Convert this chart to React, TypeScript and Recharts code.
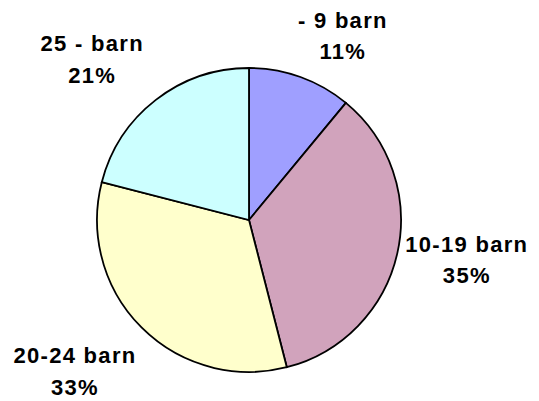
import { PieChart, Pie, Cell } from 'recharts';

const categories = ['- 9 barn', '10-19 barn', '20-24 barn', '25 - barn'];
const shares = [11, 35, 33, 21];
const colors = ['#9F9FFF', '#D1A3BC', '#FFFFCC', '#CCFFFF'];

// small per-label nudges so the text sits where the original placed it
const labelNudge = [
  [21, 18],
  [8, -7],
  [-22, -1],
  [-25, 9],
];

const data = categories.map((name, i) => ({ name, value: shares[i] }));

const RAD = Math.PI / 180;

//@ts-ignore
const renderLabel = ({ cx, cy, midAngle, percent, index, name }) => {
  const r = 215;
  const x = cx + r * Math.cos(-midAngle * RAD) + labelNudge[index][0];
  const y = cy + r * Math.sin(-midAngle * RAD) + labelNudge[index][1];
  return (
    <text
      x={x}
      y={y}
      textAnchor="middle"
      fill="#000"
      fontFamily="'Liberation Sans', Arial, sans-serif"
      fontWeight="bold"
      fontSize={22}
      letterSpacing={1.3}
    >
      <tspan x={x} y={y - 8}>{name}</tspan>
      <tspan x={x} y={y + 23.5}>{Math.round(percent * 100)}%</tspan>
    </text>
  );
};

const App = () => {
  return (
    <div style={{ position: 'absolute', left: 0, top: 0, width: 539, height: 401, background: '#fff' }}>
      <PieChart width={539} height={401} margin={{ top: 0, right: 0, bottom: 0, left: 0 }}>
        <Pie
          data={data}
          dataKey="value"
          nameKey="name"
          cx={249}
          cy={220}
          outerRadius={152}
          startAngle={90}
          endAngle={-270}
          stroke="#000"
          strokeWidth={1.8}
          label={renderLabel}
          labelLine={false}
          isAnimationActive={false}
        >
          {data.map((d, i) => (
            <Cell key={d.name} fill={colors[i]} />
          ))}
        </Pie>
      </PieChart>
    </div>
  );
};

export default App;
